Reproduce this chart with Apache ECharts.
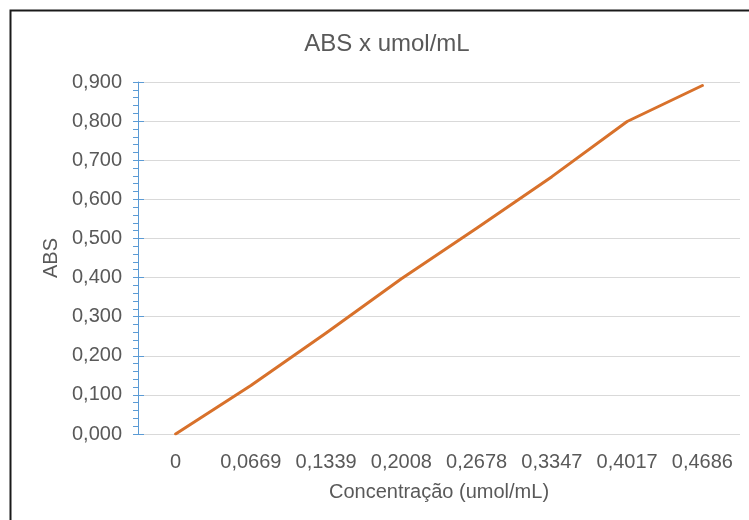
<!DOCTYPE html>
<html>
<head>
<meta charset="utf-8">
<script src="https://cdn.jsdelivr.net/npm/echarts@6/dist/echarts.min.js"></script>
<style>
html,body{margin:0;padding:0;background:#fff;}
#chart{width:749px;height:520px;}
</style>
</head>
<body>
<div id="chart"></div>
<script>
const titleText = 'ABS x umol/mL';
const xAxisName = 'Concentração (umol/mL)';
const yAxisName = 'ABS';
const categories = ['0', '0,0669', '0,1339', '0,2008', '0,2678', '0,3347', '0,4017', '0,4686'];
const absValues = [0, 0.124, 0.258, 0.397, 0.526, 0.658, 0.799, 0.891];
const yMin = 0, yMax = 0.9, yStep = 0.1;

const FONT = '"Liberation Sans", Arial, sans-serif';
const TXT = '#595959';
const BLUE = '#5B9BD5';

const chart = echarts.init(document.getElementById('chart'), null, {renderer: 'canvas'});
const fmt = v => v.toFixed(3).replace('.', ',');

chart.setOption({
  animation: false,
  backgroundColor: '#ffffff',
  graphic: [
    {type: 'rect', shape: {x: 10.5, y: 10.5, width: 800, height: 600},
     style: {fill: 'none', stroke: '#1a1a1a', lineWidth: 2}, silent: true},
    {type: 'text', x: 387, y: 32,
     style: {text: titleText, font: '24px ' + FONT, fill: TXT, textAlign: 'center', textVerticalAlign: 'top'}}
  ],
  grid: {left: 138, right: 9, top: 82, bottom: 86},
  xAxis: {
    type: 'category',
    data: categories,
    boundaryGap: true,
    name: xAxisName,
    nameLocation: 'middle',
    nameGap: 48,
    nameTextStyle: {color: TXT, fontSize: 20, fontFamily: FONT},
    axisLine: {show: false},
    axisTick: {show: false},
    axisLabel: {color: TXT, fontSize: 20, fontFamily: FONT, margin: 18, interval: 0}
  },
  yAxis: [
    {
      type: 'value',
      min: yMin, max: yMax, interval: yStep,
      name: yAxisName,
      nameLocation: 'middle',
      nameGap: 77,
      nameRotate: 90,
      nameTextStyle: {color: TXT, fontSize: 20, fontFamily: FONT},
      axisLine: {show: true, lineStyle: {color: BLUE, width: 1}},
      axisTick: {show: true, inside: false, length: 5, lineStyle: {color: BLUE, width: 1}},
      minorTick: {show: true, splitNumber: 5, length: 5, lineStyle: {color: BLUE, width: 1}},
      splitLine: {show: true, lineStyle: {color: '#D9D9D9', width: 1}},
      axisLabel: {color: TXT, fontSize: 20, fontFamily: FONT, margin: 16, formatter: fmt}
    },
    {
      type: 'value',
      position: 'left',
      min: yMin, max: yMax, interval: yStep,
      axisLine: {show: false},
      axisTick: {show: true, inside: true, length: 6, lineStyle: {color: BLUE, width: 1}},
      splitLine: {show: false},
      axisLabel: {show: false}
    }
  ],
  series: [{
    type: 'line',
    data: absValues,
    yAxisIndex: 0,
    symbol: 'none',
    smooth: false,
    lineStyle: {color: '#D8712B', width: 3, cap: 'round', join: 'round'}
  }]
});
</script>
</body>
</html>
